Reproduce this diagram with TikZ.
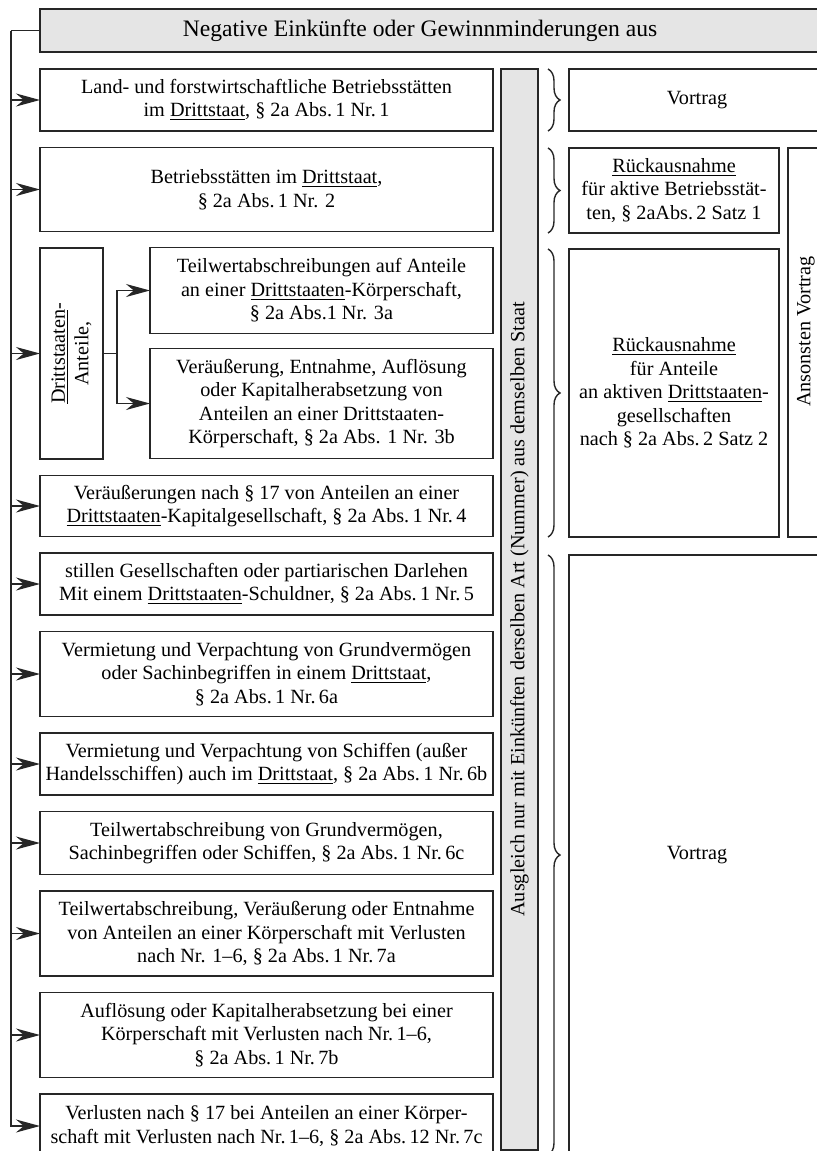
\documentclass[tikz,border=0pt]{standalone}
\usepackage{fontspec}
\setmainfont{Liberation Serif}
\usetikzlibrary{positioning, arrows.meta, decorations.pathreplacing}

\begin{document}
\begin{tikzpicture}[x=0.5pt, y=-0.5pt, node distance=8.25pt,
    edgeline/.style={draw=black!85, line width=0.7pt},
    box/.style={edgeline, rectangle, align=center, inner sep=2pt, outer sep=0pt, font=\fontsize{10.1}{11.8}\selectfont},
    leftbox/.style={box, minimum width=226.5pt},
    subbox/.style={box, minimum width=171.5pt},
    graybox/.style={box, fill=black!10},
    arrow/.style={edgeline, -{Stealth[length=12pt, width=6.5pt]}},
    bracket/.style={edgeline, decorate, decoration={brace, amplitude=6pt}}]
    \useasboundingbox (0,0) rectangle (817,1151);
    \clip (0,0) rectangle (817,1151);

    % header
    \node [graybox, anchor=north west, minimum width=395pt, minimum height=21.5pt, font=\fontsize{11.8}{14}\selectfont] (head) at (40,9) {Negative Einkünfte oder Gewinnminderungen aus\hspace{15pt}};

    % left column
    \node [leftbox, anchor=north west, minimum height=31pt] (b1) at (40,69) {Land- und forstwirtschaftliche Betriebsstätten\\im \underline{Drittstaat}, § 2a Abs.\,1 Nr.\,1};
    \node [leftbox, below=of b1, minimum height=42pt] (b2) {Betriebsstätten im \underline{Drittstaat},\\§ 2a Abs.\,1 Nr. 2};
    \node [subbox, below=8pt of b2.south east, anchor=north east, minimum height=43pt] (b3a) {Teilwertabschreibungen auf Anteile\\an einer \underline{Drittstaaten}-Körperschaft,\\§ 2a Abs.1 Nr. 3a};
    \node [subbox, below=7.5pt of b3a, minimum height=55pt] (b3b) {Veräußerung, Entnahme, Auflösung\\oder Kapitalherabsetzung von\\Anteilen an einer Drittstaaten-\\Körperschaft, § 2a Abs. 1 Nr. 3b};
    \node [box, rotate=90, minimum width=105.5pt, minimum height=31.5pt] (anteile) at (71.5,353.5) {\underline{Drittstaaten}-\\Anteile,};
    \node [leftbox, below=8.5pt of b3b.south east, anchor=north east, minimum height=30.5pt] (b4) {Veräußerungen nach § 17 von Anteilen an einer\\\underline{Drittstaaten}-Kapitalgesellschaft, § 2a Abs.\,1 Nr.\,4};
    \node [leftbox, below=of b4, minimum height=31pt] (b5) {stillen Gesellschaften oder partiarischen Darlehen\\Mit einem \underline{Drittstaaten}-Schuldner, § 2a Abs.\,1 Nr.\,5};
    \node [leftbox, below=of b5, minimum height=42.5pt] (b6a) {Vermietung und Verpachtung von Grundvermögen\\oder Sachinbegriffen in einem \underline{Drittstaat},\\§ 2a Abs.\,1 Nr.\,6a};
    \node [leftbox, below=of b6a, minimum height=31pt] (b6b) {Vermietung und Verpachtung von Schiffen (außer\\Handelsschiffen) auch im \underline{Drittstaat}, § 2a Abs.\,1 Nr.\,6b};
    \node [leftbox, below=of b6b, minimum height=31.5pt] (b6c) {Teilwertabschreibung von Grundvermögen,\\Sachinbegriffen oder Schiffen, § 2a Abs.\,1 Nr.\,6c};
    \node [leftbox, below=of b6c, minimum height=42.5pt] (b7a) {Teilwertabschreibung, Veräußerung oder Entnahme\\von Anteilen an einer Körperschaft mit Verlusten\\nach Nr. 1–6, § 2a Abs.\,1 Nr.\,7a};
    \node [leftbox, below=of b7a, minimum height=42.5pt] (b7b) {Auflösung oder Kapitalherabsetzung bei einer\\Körperschaft mit Verlusten nach Nr.\,1–6,\\§ 2a Abs.\,1 Nr.\,7b};
    \node [leftbox, below=of b7b, minimum height=32pt] (b7c) {Verlusten nach § 17 bei Anteilen an einer Körper-\\schaft mit Verlusten nach Nr.\,1–6, § 2a Abs.\,12 Nr.\,7c};

    % middle column
    \node [graybox, rotate=90, minimum width=540.5pt, minimum height=18.5pt] (ausgleich) at (519.5,609.5) {Ausgleich nur mit Einkünften derselben Art (Nummer) aus demselben Staat};

    % right column
    \node [box, anchor=north west, minimum width=128pt, minimum height=31pt] (vortrag1) at (569,69) {Vortrag};
    \node [box, below=8.5pt of vortrag1.south west, anchor=north west, minimum width=105pt, minimum height=42.5pt] (rueck1) {\underline{Rückausnahme}\\für aktive Betriebsstät-\\ten, § 2aAbs.\,2 Satz 1};
    \node [box, below=8pt of rueck1.south west, anchor=north west, minimum width=105pt, minimum height=144pt] (rueck2) {\underline{Rückausnahme}\\für Anteile\\an aktiven \underline{Drittstaaten}-\\gesellschaften\\nach § 2a Abs.\,2 Satz 2};
    \node [box, rotate=90, minimum width=194.5pt, minimum height=18pt] (ansonsten) at (806,342.5) {\hspace*{11pt}Ansonsten Vortrag};
    \node [box, below=9pt of rueck2.south west, anchor=north west, minimum width=128pt, minimum height=300pt] (vortrag2) {Vortrag};

    % connectors
    \draw [edgeline] (head.west) -- ++(-29,0) coordinate (bus);
    \draw [arrow] (bus) |- (b7c.west);
    \foreach \n in {b1,b2,b4,b5,b6a,b6b,b6c,b7a,b7b}
        \draw [arrow] (bus |- \n.west) -- (\n.west);
    \draw [arrow] (bus |- anteile.north) -- (anteile.north);
    \draw [edgeline] (anteile.south) -- ++(14,0) coordinate (fork);
    \draw [arrow] (fork) |- (b3a.west);
    \draw [arrow] (fork) |- (b3b.west);

    % braces
    \foreach \n in {vortrag1,rueck1,rueck2,vortrag2}
        \draw [bracket] ([xshift=-10.5pt]\n.north west) -- ([xshift=-10.5pt]\n.south west);
\end{tikzpicture}
\end{document}
